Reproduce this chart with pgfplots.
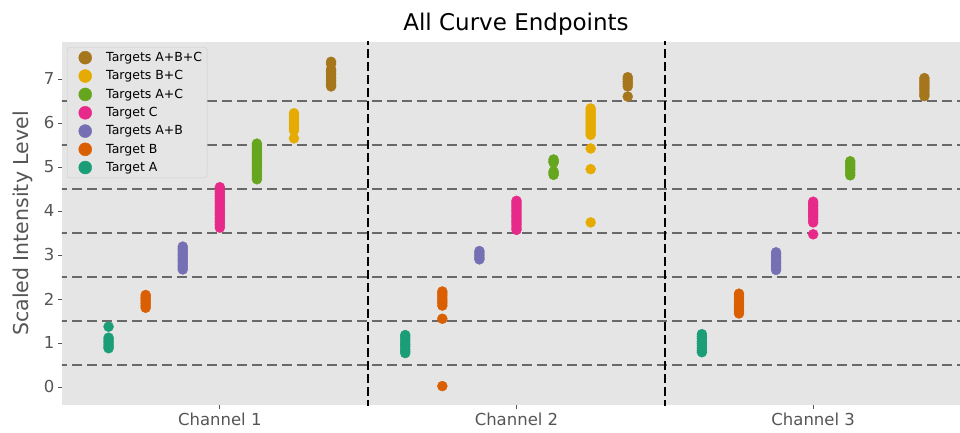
\documentclass[border=0pt]{standalone}
\usepackage{fontspec}
\setmainfont{DejaVu Sans}
\usepackage{pgfplots}
\pgfplotsset{compat=1.18}
\definecolor{bg}{HTML}{E5E5E5}
\definecolor{tickgray}{HTML}{555555}
\definecolor{dashgray}{HTML}{696969}
\definecolor{legborder}{HTML}{CCCCCC}
\definecolor{cA}{HTML}{1B9E77}
\definecolor{cB}{HTML}{D95F02}
\definecolor{cAB}{HTML}{7570B3}
\definecolor{cC}{HTML}{E7298A}
\definecolor{cAC}{HTML}{66A61E}
\definecolor{cBC}{HTML}{E6AB02}
\definecolor{cABC}{HTML}{A6761D}
\begin{document}
\begin{tikzpicture}
\useasboundingbox (-62pt,-27pt) rectangle (898pt,405pt);
\begin{axis}[
  scale only axis, width=898pt, height=363pt,
  xmin=0.468, xmax=3.495, ymin=-0.41, ymax=7.84,
  axis background/.style={fill=bg},
  axis line style={draw=none},
  xtick={1,2,3}, xticklabels={Channel 1,Channel 2,Channel 3},
  ytick={0,1,2,3,4,5,6,7},
  tick pos=left, tick align=outside,
  major tick length=4pt,
  every tick/.style={color=tickgray, line width=0.8pt},
  tick label style={font=\fontsize{16.5}{19}\selectfont, color=tickgray},
  /pgf/number format/assume math mode=true,
  title={All Curve Endpoints},
  title style={font=\fontsize{23}{26}\selectfont, yshift=-3pt, xshift=5pt},
  ylabel={Scaled Intensity Level},
  ylabel style={font=\fontsize{20.5}{23}\selectfont, color=tickgray, yshift=4pt},
  legend style={at={(rel axis cs:0.0056,0.986)}, anchor=north west,
    fill=bg, draw=legborder, rounded corners=3pt,
    font=\fontsize{12.5}{15}\selectfont, row sep=3.6pt, inner ysep=3pt},
  legend cell align=left,
  reverse legend,
  every axis plot/.append style={only marks, mark=*, mark size=5pt,
    legend image code/.code={\path[draw=none] (0pt,0pt) -- (34pt,0pt);
      \draw[mark size=6.5pt] plot coordinates {(15pt,0pt)};}},
]
\addplot[color=cA] coordinates {
 (0.625,1.37) (0.625,1.12) (0.625,1.07) (0.625,1.02) (0.625,0.97) (0.625,0.92) (0.625,0.88)
 (1.625,1.18) (1.625,1.13) (1.625,1.08) (1.625,1.02) (1.625,0.97) (1.625,0.92) (1.625,0.86) (1.625,0.81) (1.625,0.77)
 (2.625,1.20) (2.625,1.15) (2.625,1.10) (2.625,1.04) (2.625,0.99) (2.625,0.94) (2.625,0.88) (2.625,0.83) (2.625,0.79)};
\addlegendentry{Target A}
\addplot[color=cB] coordinates {
 (0.75,2.09) (0.75,2.04) (0.75,2.00) (0.75,1.95) (0.75,1.90) (0.75,1.85) (0.75,1.80)
 (1.75,2.17) (1.75,2.12) (1.75,2.07) (1.75,2.01) (1.75,1.96) (1.75,1.91) (1.75,1.85) (1.75,1.55) (1.75,0.02)
 (2.75,2.12) (2.75,2.07) (2.75,2.02) (2.75,1.97) (2.75,1.92) (2.75,1.87) (2.75,1.82) (2.75,1.77) (2.75,1.72) (2.75,1.67)};
\addlegendentry{Target B}
\addplot[color=cAB] coordinates {
 (0.875,3.19) (0.875,3.14) (0.875,3.09) (0.875,3.03) (0.875,2.98) (0.875,2.93) (0.875,2.88) (0.875,2.83) (0.875,2.77) (0.875,2.72) (0.875,2.67)
 (1.875,3.09) (1.875,3.04) (1.875,2.99) (1.875,2.94) (1.875,2.90)
 (2.875,3.06) (2.875,3.01) (2.875,2.96) (2.875,2.91) (2.875,2.86) (2.875,2.81) (2.875,2.76) (2.875,2.71) (2.875,2.66)};
\addlegendentry{Targets A+B}
\addplot[color=cC] coordinates {
 (1,4.54) (1,4.49) (1,4.44) (1,4.39) (1,4.34) (1,4.29) (1,4.24) (1,4.19) (1,4.14) (1,4.09) (1,4.04) (1,3.99) (1,3.94) (1,3.89) (1,3.84) (1,3.79) (1,3.74) (1,3.68) (1,3.62)
 (2,4.23) (2,4.18) (2,4.13) (2,4.08) (2,4.03) (2,3.98) (2,3.93) (2,3.88) (2,3.83) (2,3.78) (2,3.73) (2,3.68) (2,3.62) (2,3.57)
 (3,4.21) (3,4.16) (3,4.11) (3,4.06) (3,4.01) (3,3.96) (3,3.91) (3,3.86) (3,3.80) (3,3.74) (3,3.47)};
\addlegendentry{Target C}
\addplot[color=cAC] coordinates {
 (1.125,5.53) (1.125,5.48) (1.125,5.43) (1.125,5.38) (1.125,5.33) (1.125,5.28) (1.125,5.23) (1.125,5.18) (1.125,5.13) (1.125,5.08) (1.125,5.03) (1.125,4.98) (1.125,4.93) (1.125,4.88) (1.125,4.83) (1.125,4.77) (1.125,4.72)
 (2.125,5.17) (2.125,5.13) (2.125,5.10) (2.125,4.90) (2.125,4.86) (2.125,4.82)
 (3.125,5.13) (3.125,5.08) (3.125,5.03) (3.125,4.98) (3.125,4.93) (3.125,4.87) (3.125,4.81)};
\addlegendentry{Targets A+C}
\addplot[color=cBC] coordinates {
 (1.25,6.22) (1.25,6.17) (1.25,6.12) (1.25,6.07) (1.25,6.02) (1.25,5.97) (1.25,5.92) (1.25,5.87) (1.25,5.83) (1.25,5.65)
 (2.25,6.33) (2.25,6.28) (2.25,6.23) (2.25,6.18) (2.25,6.13) (2.25,6.08) (2.25,6.03) (2.25,5.98) (2.25,5.93) (2.25,5.88) (2.25,5.83) (2.25,5.78) (2.25,5.73) (2.25,5.42) (2.25,4.95) (2.25,3.74)};
\addlegendentry{Targets B+C}
\addplot[color=cABC] coordinates {
 (1.375,7.39) (1.375,7.34) (1.375,7.22) (1.375,7.17) (1.375,7.12) (1.375,7.07) (1.375,7.02) (1.375,6.97) (1.375,6.92) (1.375,6.87) (1.375,6.83)
 (2.375,7.04) (2.375,6.99) (2.375,6.94) (2.375,6.89) (2.375,6.83) (2.375,6.60)
 (3.375,7.02) (3.375,6.97) (3.375,6.92) (3.375,6.87) (3.375,6.82) (3.375,6.77) (3.375,6.72) (3.375,6.66) (3.375,6.61)};
\addlegendentry{Targets A+B+C}
% reference lines
\pgfplotsinvokeforeach{0.5,1.5,2.5,3.5,4.5,5.5,6.5}{
  \addplot[forget plot, no marks, sharp plot, draw=dashgray, line width=2.6pt, dash pattern=on 10.5pt off 4.5pt]
    coordinates {(0.40,#1) (3.6,#1)};
}
\pgfplotsinvokeforeach{1.5,2.5}{
  \addplot[forget plot, no marks, sharp plot, draw=black, line width=2.6pt, dash pattern=on 9pt off 4pt]
    coordinates {(#1,-0.5) (#1,8)};
}
\end{axis}
\end{tikzpicture}
\end{document}
